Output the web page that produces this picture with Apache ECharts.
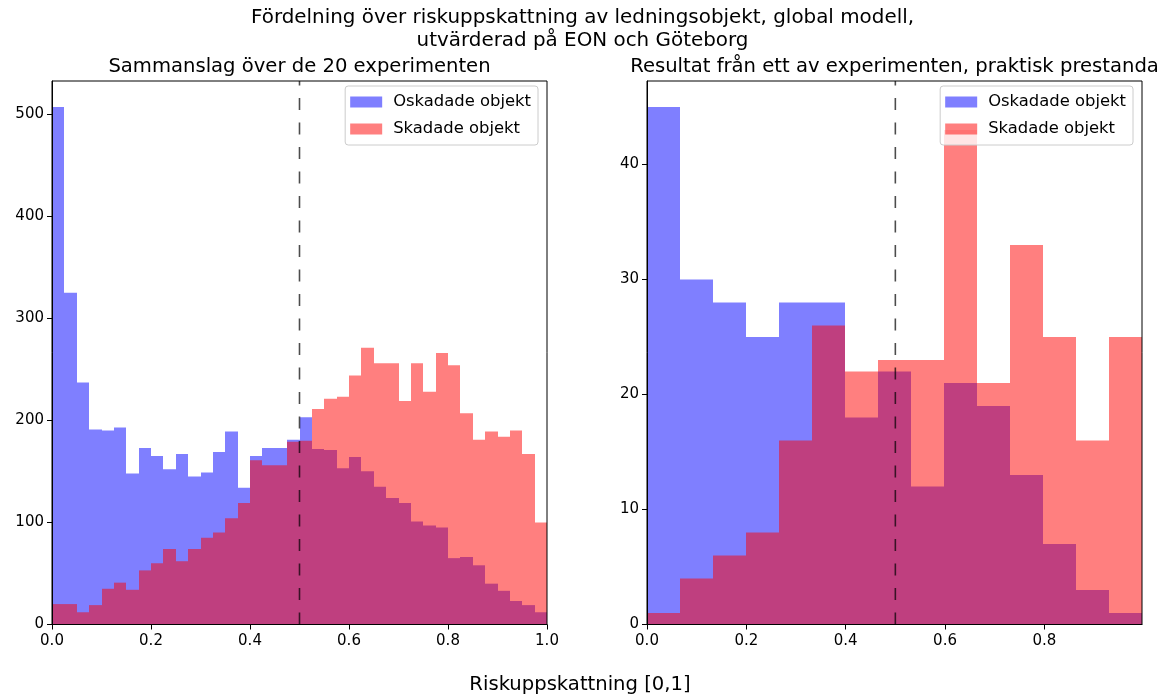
<!DOCTYPE html>
<html>
<head>
<meta charset="utf-8">
<title>Riskuppskattning</title>
<script src="https://cdn.jsdelivr.net/npm/echarts@6/dist/echarts.min.js"></script>
<style>
  html, body { margin: 0; background: #fff; }
  #chart { width: 1165px; height: 697px; }
</style>
</head>
<body>
<div id="chart"></div>
<script>
// counts per bin
const leftOskadade = [507, 325, 237, 191, 190, 193, 148, 173, 165, 152, 167, 145, 149, 169, 189, 134, 165, 173, 173, 181,
  203, 172, 171, 153, 164, 150, 135, 124, 119, 101, 97, 95, 65, 66, 58, 40, 33, 23, 19, 12]
const leftSkadade = [20, 20, 12, 19, 35, 41, 34, 53, 60, 74, 62, 74, 85, 90, 104, 119, 161, 156, 156, 179,
  180, 211, 221, 223, 244, 271, 256, 256, 219, 256, 228, 266, 254, 207, 181, 189, 184, 190, 167, 100]
const rightOskadade = [45, 30, 28, 25, 28, 28, 18, 22, 12, 21, 19, 13, 7, 3, 1]
const rightSkadade = [1, 4, 6, 8, 16, 26, 22, 23, 23, 43, 21, 33, 25, 16, 25]

// bin ranges and tick labels
const leftRange = [0, 1]
const rightRange = [0, 0.9966]
const leftTicksX = [0, 0.2, 0.4, 0.6, 0.8, 1.0]
const rightTicksX = [0, 0.2, 0.4, 0.6, 0.8]
const leftTicksY = [0, 100, 200, 300, 400, 500]
const rightTicksY = [0, 10, 20, 30, 40]
const threshold = 0.5

const seriesNames = ['Oskadade objekt', 'Skadade objekt']
const FONT = '"DejaVu Sans", sans-serif'
const BLUE = 'rgba(0,0,255,0.5)'
const RED = 'rgba(255,0,0,0.5)'

function toBins (counts, range) {
  const w = (range[1] - range[0]) / counts.length
  return counts.map((v, i) => [range[0] + i * w, range[0] + (i + 1) * w, v])
}

function renderBar (params, api) {
  const top = api.coord([api.value(0), api.value(2)])
  const bottom = api.coord([api.value(1), 0])
  const x0 = Math.round(top[0])
  const x1 = Math.round(bottom[0])
  return {
    type: 'rect',
    shape: { x: x0, y: top[1], width: x1 - x0, height: bottom[1] - top[1] },
    style: { fill: api.visual('color') }
  }
}

function histSeries (name, counts, range, color, idx) {
  return {
    type: 'custom',
    name: name,
    xAxisIndex: idx,
    yAxisIndex: idx,
    renderItem: renderBar,
    itemStyle: { color: color },
    encode: { x: [0, 1], y: 2 },
    data: toBins(counts, range),
    z: 2
  }
}

function thresholdSeries (idx, yMax) {
  return {
    type: 'line',
    xAxisIndex: idx,
    yAxisIndex: idx,
    showSymbol: false,
    silent: true,
    data: [[threshold, 0], [threshold, yMax]],
    lineStyle: { color: 'rgba(0,0,0,0.7)', width: 1.6, type: [12, 12.5] },
    z: 5
  }
}

const leftYMax = Math.max(...leftOskadade, ...leftSkadade) * 1.05
const rightYMax = Math.max(...rightOskadade, ...rightSkadade) * 1.05

function xAxisOpts (idx, range, ticks) {
  return {
    type: 'value',
    gridIndex: idx,
    min: range[0],
    max: range[1],
    z: 10,
    splitLine: { show: false },
    axisLine: { show: true, lineStyle: { color: '#000', width: 1 } },
    axisTick: { show: true, length: 5, customValues: ticks, lineStyle: { color: '#000' } },
    axisLabel: {
      customValues: ticks,
      margin: 9,
      color: '#000',
      fontFamily: FONT,
      fontSize: 15,
      formatter: (v) => v.toFixed(1)
    }
  }
}

function yAxisOpts (idx, yMax, ticks) {
  return {
    type: 'value',
    gridIndex: idx,
    min: 0,
    max: yMax,
    z: 10,
    splitLine: { show: false },
    axisLine: { show: true, lineStyle: { color: '#000', width: 1 } },
    axisTick: { show: true, length: 5, customValues: ticks, lineStyle: { color: '#000' } },
    axisLabel: {
      customValues: ticks,
      margin: 8,
      color: '#000',
      fontFamily: FONT,
      fontSize: 15,
      formatter: (v) => String(Math.round(v))
    }
  }
}

function legendOpts (right) {
  return {
    data: seriesNames,
    orient: 'vertical',
    right: right,
    top: 86,
    icon: 'rect',
    itemWidth: 32,
    itemHeight: 11,
    itemGap: 9,
    padding: [7, 7, 7, 5],
    backgroundColor: 'rgba(255,255,255,0.8)',
    borderColor: '#cccccc',
    borderWidth: 1,
    borderRadius: 3,
    selectedMode: false,
    textStyle: {
      color: '#000',
      fontFamily: FONT,
      fontSize: 16.4,
      lineHeight: 18,
      padding: [0, 0, 0, 6]
    }
  }
}

function textEl (text, x, y, size) {
  return {
    type: 'text',
    x: x,
    y: y,
    silent: true,
    style: {
      text: text,
      fill: '#000',
      font: size + 'px ' + FONT,
      align: 'center',
      verticalAlign: 'middle'
    }
  }
}

const option = {
  animation: false,
  backgroundColor: '#fff',
  grid: [
    { left: 52, top: 81, width: 495, height: 543.5, show: true, borderColor: '#000', borderWidth: 1, backgroundColor: 'transparent', z: 10 },
    { left: 647, top: 81, width: 495, height: 543.5, show: true, borderColor: '#000', borderWidth: 1, backgroundColor: 'transparent', z: 10 }
  ],
  xAxis: [xAxisOpts(0, leftRange, leftTicksX), xAxisOpts(1, rightRange, rightTicksX)],
  yAxis: [yAxisOpts(0, leftYMax, leftTicksY), yAxisOpts(1, rightYMax, rightTicksY)],
  legend: [legendOpts(1165 - 538), legendOpts(1165 - 1133)],
  graphic: [
    textEl('Fördelning över riskuppskattning av ledningsobjekt, global modell,', 582.5, 18, 19.9),
    textEl('utvärderad på EON och Göteborg', 582.5, 41, 19.9),
    textEl('Sammanslag över de 20 experimenten', 299.5, 67, 19.6),
    textEl('Resultat från ett av experimenten, praktisk prestanda', 894.5, 67, 19.6),
    textEl('Riskuppskattning [0,1]', 580, 685, 19.6)
  ],
  series: [
    histSeries(seriesNames[0], leftOskadade, leftRange, BLUE, 0),
    histSeries(seriesNames[1], leftSkadade, leftRange, RED, 0),
    thresholdSeries(0, leftYMax),
    histSeries(seriesNames[0], rightOskadade, rightRange, BLUE, 1),
    histSeries(seriesNames[1], rightSkadade, rightRange, RED, 1),
    thresholdSeries(1, rightYMax)
  ]
}

const chart = echarts.init(document.getElementById('chart'))
chart.setOption(option)
</script>
</body>
</html>
